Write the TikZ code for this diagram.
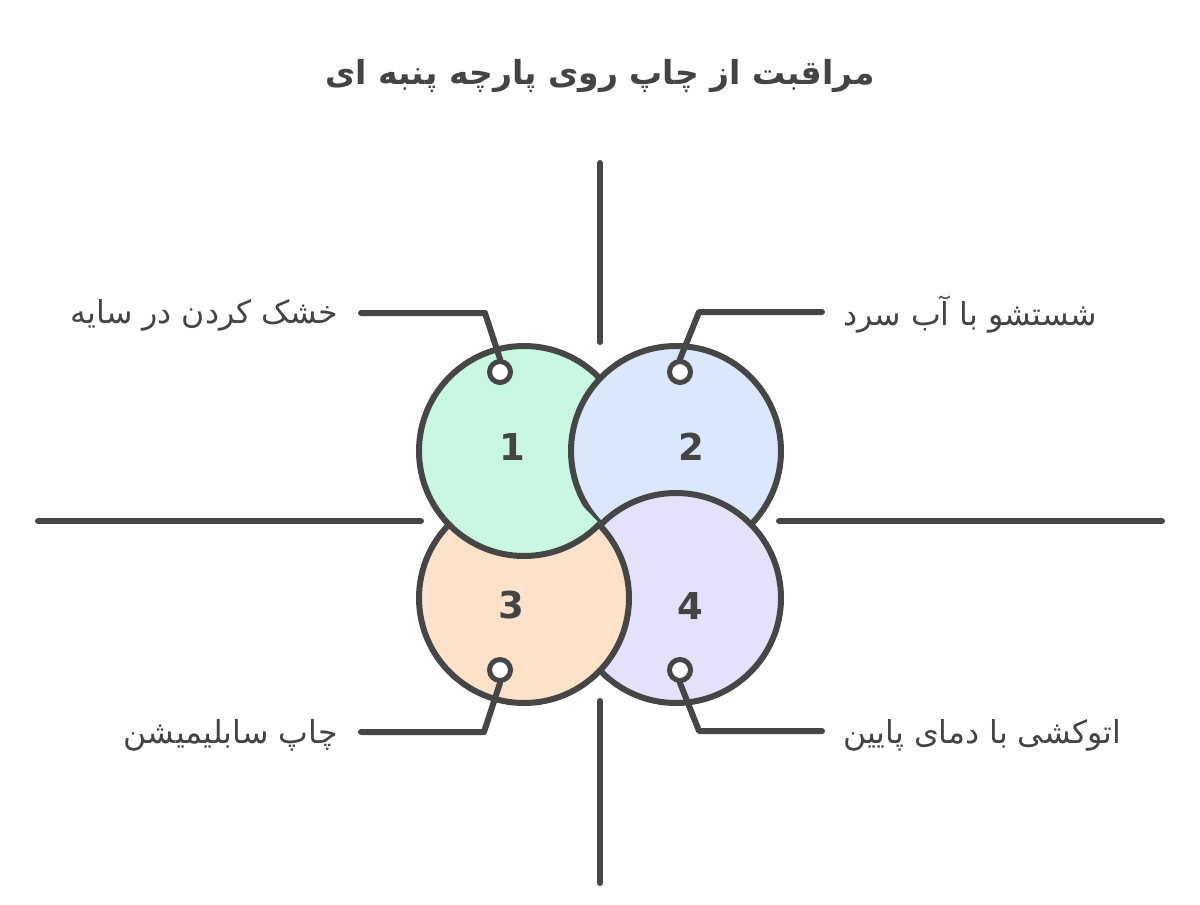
\documentclass[tikz,border=0pt]{standalone}
\usepackage{fontspec}
\newfontfamily\arabicfont[Script=Arabic]{DejaVu Sans}
\newfontfamily\numfont{DejaVu Sans}
\TeXXeTstate=1
\definecolor{ink}{HTML}{464646}
\definecolor{txt}{HTML}{444444}
\definecolor{fillA}{HTML}{C8F8E2}
\definecolor{fillB}{HTML}{DBE7FC}
\definecolor{fillC}{HTML}{FEE2CA}
\definecolor{fillD}{HTML}{E4E1FB}
\tikzset{
  pen/.style={draw=ink, line width=6pt, line cap=round, line join=round},
  dotnode/.style={circle, draw=ink, fill=white, line width=5pt, minimum size=21pt, inner sep=0pt},
  numnode/.style={text=txt, font=\numfont\bfseries\fontsize{37}{40}\selectfont},
  lbl/.style={text=txt, inner sep=0pt, font=\arabicfont\fontsize{31.6}{36}\selectfont},
  ttl/.style={text=txt, inner sep=0pt, font=\arabicfont\bfseries\fontsize{33}{38}\selectfont}
}
\begin{document}
\begin{tikzpicture}[x=1pt,y=-1pt]
\useasboundingbox (0,0) rectangle (1200,905);
\fill[white] (0,0) rectangle (1200,905);

% title
\node[ttl] (title) at (600,76) {\beginR مراقبت از چاپ روی پارچه پنبه ای\endR};

% axis lines
\coordinate (vt1) at (600,163); \coordinate (vt2) at (600,342);
\coordinate (vb1) at (600,701); \coordinate (vb2) at (600,883);
\coordinate (hl1) at (38,521);  \coordinate (hl2) at (421,521);
\coordinate (hr1) at (779,521); \coordinate (hr2) at (1162,521);
\draw[pen] (vt1) -- (vt2);
\draw[pen] (vb1) -- (vb2);
\draw[pen] (hl1) -- (hl2);
\draw[pen] (hr1) -- (hr2);

% circles (cyclic overlap: 2 over 1, 4 over 2, 3 over 4, 1 over 3)
\coordinate (c1) at (524,451);
\coordinate (c2) at (676,451);
\coordinate (c3) at (524,598);
\coordinate (c4) at (676,598);
\filldraw[pen, fill=fillA] (c1) circle[radius=105];
\filldraw[pen, fill=fillB] (c2) circle[radius=105];
\filldraw[pen, fill=fillD] (c4) circle[radius=105];
\filldraw[pen, fill=fillC] (c3) circle[radius=105];
\begin{scope}
  \clip (306,220) -- (894,828) -- (894,905) -- (0,905) -- (0,220) -- cycle;
  \clip (c3) circle[radius=113];
  \filldraw[pen, fill=fillA] (c1) circle[radius=105];
\end{scope}

% numbers
\node[numnode] (n1) at (512,447) {1};
\node[numnode] (n2) at (691,447) {2};
\node[numnode] (n3) at (511,605) {3};
\node[numnode] (n4) at (690,606) {4};

% connector dots
\node[dotnode] (d1) at (500,372) {};
\node[dotnode] (d2) at (680,372) {};
\node[dotnode] (d3) at (500,670) {};
\node[dotnode] (d4) at (680,670) {};

% labels
\node[lbl, anchor=east] (t1) at (338,315) {\beginR خشک کردن در سایه\endR};
\node[lbl, anchor=west] (t2) at (843,315) {\beginR شستشو با آب سرد\endR};
\node[lbl, anchor=east] (t3) at (338,735) {\beginR چاپ سابلیمیشن\endR};
\node[lbl, anchor=west] (t4) at (843,735) {\beginR اتوکشی با دمای پایین\endR};

% connectors
\coordinate (k1) at (485,313); \coordinate (e1) at (361,313);
\coordinate (k2) at (699,312); \coordinate (e2) at (822,312);
\coordinate (k3) at (484,732); \coordinate (e3) at (361,732);
\coordinate (k4) at (699,731); \coordinate (e4) at (822,731);
\draw[pen] (d1.north) -- (k1) -- (e1);
\draw[pen] (d2.north) -- (k2) -- (e2);
\draw[pen] (d3.south) -- (k3) -- (e3);
\draw[pen] (d4.south) -- (k4) -- (e4);
\end{tikzpicture}
\end{document}
